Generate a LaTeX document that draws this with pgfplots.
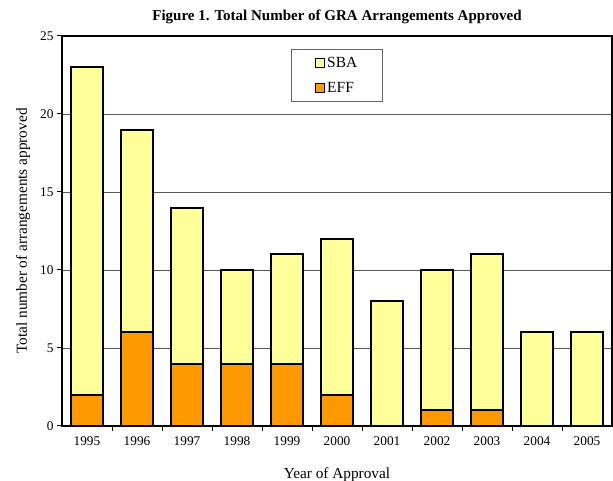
\documentclass[border=0pt]{standalone}
\usepackage{fontspec}
\setmainfont{Liberation Serif}
\usepackage{pgfplots}
\pgfplotsset{compat=1.18}
\usetikzlibrary{calc}
\definecolor{sba}{HTML}{FFFF99}
\definecolor{eff}{HTML}{FF9900}

\begin{document}
\begin{tikzpicture}
\begin{axis}[
  scale only axis, width=550pt, height=390pt,
  ybar stacked, bar width=0.64,
  xmin=-0.5, xmax=10.5, ymin=0, ymax=25,
  xtick={0,...,10},
  xticklabels={1995,1996,1997,1998,1999,2000,2001,2002,2003,2004,2005},
  minor xtick={0.5,1.5,...,9.5},
  major x tick style={draw=none},
  minor tick length=5pt,
  ytick={0,5,...,25}, major tick length=5pt,
  tick align=outside, tick pos=left,
  ymajorgrids, grid style={black!65, line width=0.7pt},
  axis line style={line width=1.2pt},
  tick style={line width=1pt, black},
  tick label style={font=\fontsize{13.3}{15}\selectfont},
  xticklabel style={yshift=-2pt},
  /pgf/number format/assume math mode=true,
  label style={font=\fontsize{15.3}{17}\selectfont},
  xlabel={Year of Approval}, ylabel={Total number of arrangements approved},
  xlabel style={yshift=-15pt}, ylabel style={yshift=3pt},
  title={\bfseries Figure 1. Total Number of GRA Arrangements Approved},
  title style={font=\fontsize{15}{17}\selectfont, yshift=3pt},
  reverse legend,
  legend style={at={(0.5,0.967)}, anchor=north, draw=black!60, line width=0.7pt,
    font=\fontsize{15.5}{17}\selectfont,
    inner xsep=23pt, inner ysep=6pt, row sep=9pt},
  legend cell align=left,
  legend image code/.code={\draw[#1, line width=1.6pt] (0pt,-4.5pt) rectangle (9pt,4.5pt);},
]
\addplot[fill=eff, draw=black, line width=2pt] coordinates {
  (0,2) (1,6) (2,4) (3,4) (4,4) (5,2) (6,0) (7,1) (8,1) (9,0) (10,0)
};
\addplot[fill=sba, draw=black, line width=2pt] coordinates {
  (0,21) (1,13) (2,10) (3,6) (4,7) (5,10) (6,8) (7,9) (8,10) (9,6) (10,6)
};
\legend{EFF,SBA}
\end{axis}
\pgfresetboundingbox
\path ($(current axis.south west)+(-62pt,-55pt)$) rectangle ($(current axis.north east)+(1pt,36pt)$);
\end{tikzpicture}
\end{document}
